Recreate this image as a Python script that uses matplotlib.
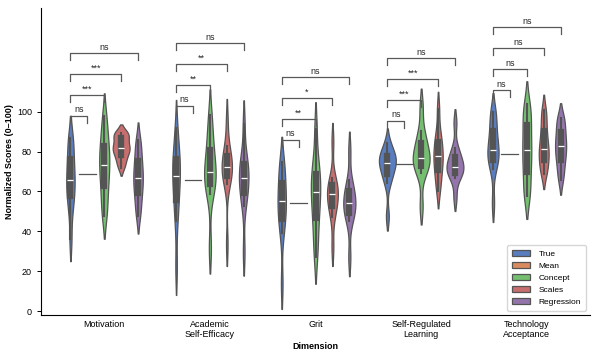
import matplotlib
matplotlib.use("Agg")
from matplotlib import pyplot as plt
import numpy as np
import pandas as pd
import seaborn as sns

# Categories / groups
dimensions = ["Motivation", "Academic\nSelf-Efficacy", "Grit",
              "Self-Regulated\nLearning", "Technology\nAcceptance"]
methods = ["True", "Mean", "Concept", "Scales", "Regression"]

# Scores per dimension (approximate deciles)
true_scores = [
    [36, 50, 55.5, 59.5, 63, 66, 69.7, 73.8, 78.5, 85, 87],
    [22, 45, 53, 58.6, 63.6, 68, 71, 74.2, 78, 83, 92],
    [13.5, 39, 44.4, 48.4, 51.9, 55, 58.4, 62.3, 66.6, 72.7, 75],
    [47.5, 64, 67.6, 70.2, 72.5, 74.5, 75.7, 76.9, 78.4, 80.4, 84.5],
    [54, 71.5, 74.7, 77.1, 79.2, 81, 84.3, 88, 92.2, 98, 100],
]
mean_scores = [69, 66, 54, 74, 79]
concept_scores = [
    [47.5, 53, 60, 65, 69.5, 73.5, 77, 80.7, 85, 91, 98],
    [31.5, 58.6, 62.5, 65.3, 67.8, 70, 74, 78.3, 83.4, 90, 98.5],
    [27, 35.7, 43.9, 49.7, 54.9, 59.5, 62.8, 66.5, 70.8, 76.5, 91.5],
    [52.5, 69.4, 72, 73.9, 75.5, 77, 79.6, 82.5, 85.8, 90.3, 102.5],
    [57.5, 60, 67.2, 72.4, 77, 81, 85.4, 90.4, 96, 100, 104],
]
scales_scores = [
    [72, 75, 77.5, 79.5, 81, 82, 83.5, 85.5, 88, 89, 89.5],
    [33.5, 63.7, 66.6, 68.7, 70.5, 72.2, 74.2, 76.5, 79.1, 82.7, 95.5],
    [32, 47.3, 51.1, 53.9, 56.3, 58.5, 60.2, 62, 64.1, 67, 85],
    [60, 65, 69.3, 72.5, 75.2, 77.7, 80.2, 83, 86.2, 90.6, 101.5],
    [68.7, 71, 74.6, 77.2, 79.5, 81.5, 84.6, 88.1, 92.1, 97.5, 101],
]
regression_scores = [
    [47.5, 52.5, 57.5, 61, 64.2, 67, 70, 73.2, 77, 82, 86],
    [29.5, 52.8, 57.6, 61.1, 64.2, 67, 69.4, 72, 75.1, 79.4, 94],
    [27, 45, 48.2, 50.5, 52.5, 54.3, 56.5, 58.9, 61.7, 65.5, 80.5],
    [57, 66.7, 68.6, 70.1, 71.3, 72.4, 74.2, 76.3, 78.6, 81.9, 94.5],
    [65.6, 70, 74.3, 77.5, 80.2, 82.7, 85.2, 88, 91.2, 95.6, 97],
]

# True vs. (Mean, Concept, Scales, Regression)
significance = [
    ["ns", "***", "***", "ns"],
    ["ns", "**", "**", "ns"],
    ["ns", "**", "*", "ns"],
    ["ns", "***", "***", "ns"],
    ["ns", "ns", "ns", "ns"],
]


def build_frame():
    rows = []
    per_method = [true_scores, None, concept_scores, scales_scores, regression_scores]
    for i, dim in enumerate(dimensions):
        for m, method in enumerate(methods):
            vals = [mean_scores[i]] if method == "Mean" else per_method[m][i]
            for v in vals:
                rows.append((dim, method, v))
    return pd.DataFrame(rows, columns=["Dimension", "Method", "Score"])


def add_brackets(ax):
    n = len(methods)
    width = 0.8 / n
    offsets = (np.arange(n) - (n - 1) / 2) * width
    step = 10.5
    tick = 3.5
    for i in range(len(dimensions)):
        base = max(max(true_scores[i]), mean_scores[i]) + 11
        x1 = i + offsets[0]
        for k, label in enumerate(significance[i]):
            y = base + k * step
            x2 = i + offsets[k + 1]
            ax.plot([x1, x1, x2, x2], [y - tick, y, y, y - tick],
                    color='0.35', lw=0.9, clip_on=False)
            ax.text((x1 + x2) / 2, y + 0.6, label, ha='center', va='bottom',
                    fontsize=6.5, color='0.15')


def main():
    plt.rcParams['font.family'] = ['Liberation Sans', 'DejaVu Sans']
    df = build_frame()

    fig = plt.figure(figsize=(6.01, 3.61), dpi=100)
    ax = fig.add_axes([0.068, 0.127, 0.914, 0.851])

    sns.violinplot(data=df, x="Dimension", y="Score", hue="Method",
                   hue_order=methods, order=dimensions, palette="muted",
                   inner="box", cut=1.6, bw_adjust=0.72, density_norm="area",
                   linewidth=0.9, inner_kws=dict(box_width=4.5), ax=ax)

    # the Mean imputation is constant -> flat violin, drawn as a light line
    for coll in ax.collections:
        for path in coll.get_paths():
            verts = path.vertices
            if len(verts) and np.ptp(verts[:, 1]) < 1e-6:
                coll.set_edgecolor('0.6')
                coll.set_linewidth(1.2)

    add_brackets(ax)

    ax.set_xlim(-0.6, 4.6)
    ax.set_ylim(-2, 152)
    ax.set_yticks([0, 20, 40, 60, 80, 100])
    ax.tick_params(labelsize=6.5, length=3, width=0.7)
    ax.tick_params(axis='x', length=0)
    ax.set_xlabel("Dimension", fontsize=6.5, fontweight='bold', labelpad=2)
    ax.set_ylabel("Normalized Scores (0–100)", fontsize=6.5, fontweight='bold',
                  labelpad=2)
    sns.despine(ax=ax)

    handles, labels = ax.get_legend_handles_labels()
    ax.legend(handles, labels, loc='lower right', fontsize=6, frameon=True,
              handlelength=2.2, handletextpad=1.0, borderpad=0.6,
              labelspacing=0.5)

    fig.savefig("out.png", dpi=100)


if __name__ == '__main__':
    main()
